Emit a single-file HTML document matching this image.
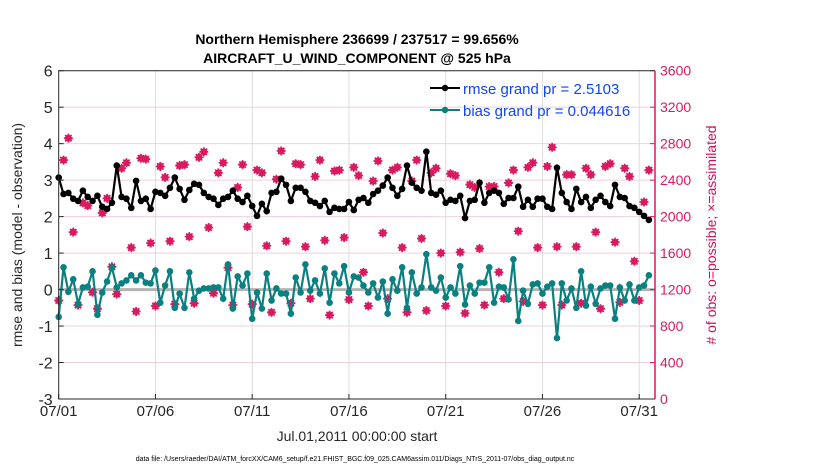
<!DOCTYPE html>
<html><head><meta charset="utf-8"><style>
body{margin:0;background:#fff;}
svg text{font-family:"Liberation Sans",Arial,sans-serif;}
</style></head><body>
<svg id="chart" width="830" height="470" viewBox="0 0 830 470" xmlns="http://www.w3.org/2000/svg">
<text x="357" y="44" text-anchor="middle" font-size="14" font-weight="bold">Northern Hemisphere 236699 / 237517 = 99.656%</text>
<text x="357" y="63" text-anchor="middle" font-size="14" font-weight="bold">AIRCRAFT_U_WIND_COMPONENT @ 525 hPa</text>
<g id="grid"></g>
<g id="marks"></g>
<g id="axes"></g>
<text transform="translate(22,235) rotate(-90)" text-anchor="middle" font-size="14" fill="#262626">rmse and bias (model - observation)</text>
<text transform="translate(716,235) rotate(-90)" text-anchor="middle" font-size="14" fill="#d0105a"># of obs: o=possible; ×=assimilated</text>
<text x="357" y="441" text-anchor="middle" font-size="14" fill="#262626">Jul.01,2011 00:00:00 start</text>
<text x="355" y="461" text-anchor="middle" font-size="7" fill="#000">data file: /Users/raeder/DAI/ATM_forcXX/CAM6_setup/f.e21.FHIST_BGC.f09_025.CAM6assim.011/Diags_NTrS_2011-07/obs_diag_output.nc</text>
<g>
<line x1="430" y1="88" x2="460" y2="88" stroke="#000" stroke-width="2"/><circle cx="445" cy="88" r="3.2" fill="#000"/>
<text x="463" y="94" font-size="15" fill="#1146f0">rmse grand pr = 2.5103</text>
<line x1="430" y1="110" x2="460" y2="110" stroke="#0b8080" stroke-width="2"/><circle cx="445" cy="110" r="3.2" fill="#0b8080"/>
<text x="463" y="116" font-size="15" fill="#1146f0">bias grand pr = 0.044616</text>
</g>
</svg>
<script>
const leftTicks = [-3,-2,-1,0,1,2,3,4,5,6];
const rightTicks = [0,400,800,1200,1600,2000,2400,2800,3200,3600];
const xTickDays = [0,5,10,15,20,25,30];
const xTickLabels = ["07/01","07/06","07/11","07/16","07/21","07/26","07/31"];
const rmse = [3.07,2.62,2.65,2.49,2.43,2.71,2.54,2.43,2.57,2.27,2.21,2.38,3.40,2.54,2.49,2.24,2.98,2.43,2.49,2.21,2.68,2.65,2.57,2.79,3.07,2.76,2.46,2.73,2.90,2.87,2.65,2.54,
2.49,2.32,2.49,2.54,2.71,2.49,2.40,2.57,2.29,2.02,2.35,2.15,2.65,2.68,3.04,2.87,2.43,2.79,2.79,2.68,2.43,2.38,2.29,2.43,2.13,2.24,2.21,2.21,2.40,2.18,2.46,
2.51,2.38,2.62,2.71,2.85,3.07,2.79,2.57,2.76,3.40,2.93,2.79,2.71,3.78,2.65,2.60,2.71,2.38,2.46,2.43,2.57,1.96,2.43,2.46,2.93,2.38,2.65,2.71,2.65,2.35,2.51,
2.51,2.82,2.27,2.46,2.27,2.49,2.49,2.27,2.21,3.34,2.65,2.40,2.21,2.76,2.40,2.54,2.24,2.46,2.57,2.40,2.29,2.87,2.54,2.51,2.29,2.24,2.13,2.02,1.91];
const bias = [-0.75,0.61,-0.06,0.28,-0.39,0.06,0.08,0.50,-0.69,-0.08,0.22,0.61,0.06,0.17,0.25,0.39,0.25,0.39,0.19,0.17,0.52,-0.36,0.11,0.50,-0.50,-0.11,-0.50,0.47,-0.25,-0.03,0.03,0.03,
0.06,0.06,-0.25,0.69,-0.52,0.36,0.11,0.44,-0.80,-0.08,-0.52,0.44,-0.30,0.03,-0.11,-0.11,-0.66,0.33,-0.08,0.69,-0.03,0.25,-0.11,0.58,-0.36,0.44,0.17,0.64,-0.08,0.36,0.33,
0.11,-0.08,0.17,-0.22,0.22,-0.66,0.28,-0.03,0.61,-0.50,0.47,-0.11,0.06,0.97,0.06,-0.03,0.33,-0.22,0.06,-0.11,0.64,-0.41,0.11,-0.11,0.19,0.19,0.61,-0.36,0.08,0.06,-0.27,
0.83,-0.86,-0.03,-0.39,0.14,0.17,-0.11,0.08,0.17,-1.33,0.17,-0.30,0.03,-0.50,0.50,-0.44,0.08,-0.39,0.03,0.11,0.11,-0.80,0.06,-0.30,0.14,-0.30,0.06,0.11,0.39];
const obsCount = [1080,2620,2860,1830,1030,2150,2120,1170,990,2040,2200,1450,1150,2530,2590,1660,960,2640,2630,1710,1020,2550,2430,1730,1040,2560,2570,1780,1050,2650,2710,1880,
1160,2480,2590,1440,1030,2320,2570,1890,1040,2510,2480,1680,950,2410,2720,1730,1050,2580,2570,1670,1100,2440,2620,1740,920,2500,2510,1770,1090,2540,2450,
1390,1020,2390,2610,1820,1100,2510,2540,1660,950,2390,2620,1760,970,2480,2530,1600,1020,2470,2450,1610,940,2350,2320,1650,1030,2330,2330,1390,1100,2370,
2510,1840,1070,2540,2590,1660,1030,2550,2760,1670,1030,2460,2460,1670,1050,2530,2460,1830,990,2550,2580,1720,1060,2530,2440,1510,1080,2160,2510];

const NS="http://www.w3.org/2000/svg";
const X0=58.7, X1=655, Y0=70.7, Y1=399, PINK="#d81b60", TEAL="#0b8080";
const DAY_PX=19.35;
const xs = d => X0 + d*DAY_PX;
const yL = v => Y1 - (v+3)/9*(Y1-Y0);
const yR = c => Y1 - c/3600*(Y1-Y0);
function mk(parent,tag,attrs){const e=document.createElementNS(NS,tag);for(const k in attrs)e.setAttribute(k,attrs[k]);parent.appendChild(e);return e;}
const grid=document.getElementById('grid'), marks=document.getElementById('marks'), axes=document.getElementById('axes');

leftTicks.forEach(t=>{
  const y=yL(t);
  if(t>-3&&t<6){const g=mk(grid,'line',{x1:X0,x2:X1,y1:y,y2:y,stroke:'#f2cfdc','stroke-width':1});
  
  }
  const tk=mk(axes,'line',{x1:X0,x2:X0+5,y1:y,y2:y,stroke:'#262626'});
  
  
  const tx=mk(axes,'text',{x:X0-6,y:y+6,'text-anchor':'end','font-size':16,fill:'#262626'});tx.textContent=t;
  
  
});
rightTicks.forEach(t=>{
  const y=yR(t);
  const tk=mk(axes,'line',{x1:X1-5,x2:X1,y1:y,y2:y,stroke:PINK});
  
  
  const tx=mk(axes,'text',{x:X1+5,y:y+5,'font-size':14,fill:PINK});tx.textContent=t;
  
  
});
xTickDays.forEach((d,i)=>{
  const x=xs(d);
  if(i>0){const g=mk(grid,'line',{x1:x,x2:x,y1:Y0,y2:Y1,stroke:'#dcdcdc','stroke-width':1});
  
  }
  const tk=mk(axes,'line',{x1:x,x2:x,y1:Y1,y2:Y1-5,stroke:'#262626'});
  
  
  const tx=mk(axes,'text',{x:x,y:416,'text-anchor':'middle','font-size':15,fill:'#262626'});tx.textContent=xTickLabels[i];
  
  
});
const zl=mk(grid,'line',{x1:X0,x2:X1,y1:yL(0),y2:yL(0),stroke:'#b4b4b4','stroke-width':3});


const frame=mk(axes,'path',{d:`M${X1},${Y0} L${X0},${Y0} L${X0},${Y1} L${X1},${Y1}`,fill:'none',stroke:'#262626','stroke-width':1});


const ra=mk(axes,'line',{x1:X1,x2:X1,y1:Y0,y2:Y1,stroke:PINK,'stroke-width':1.5});



obsCount.forEach((c,i)=>{
  const x=xs(i/4), y=yR(c);
  const g=mk(marks,'g',{stroke:PINK,'stroke-width':1.7,fill:'none'});
  
  
  mk(g,'circle',{cx:x,cy:y,r:2.6,fill:PINK,'fill-opacity':0.6});
  mk(g,'path',{d:`M${x-4.5},${y}H${x+4.5}M${x},${y-4.5}V${y+4.5}M${x-3.2},${y-3.2}L${x+3.2},${y+3.2}M${x-3.2},${y+3.2}L${x+3.2},${y-3.2}`});
});
function series(arr,color,name){
  const d=arr.map((v,i)=>(i?'L':'M')+xs(i/4).toFixed(1)+','+yL(v).toFixed(1)).join('');
  const p=mk(marks,'path',{d:d,fill:'none',stroke:color,'stroke-width':2.2});
  
  
  arr.forEach((v,i)=>{
    const c=mk(marks,'circle',{cx:xs(i/4),cy:yL(v),r:3.3,fill:color});
    
    
  });
}
series(bias,TEAL,'bias');
series(rmse,'#000','rmse');
</script>
</body></html>
